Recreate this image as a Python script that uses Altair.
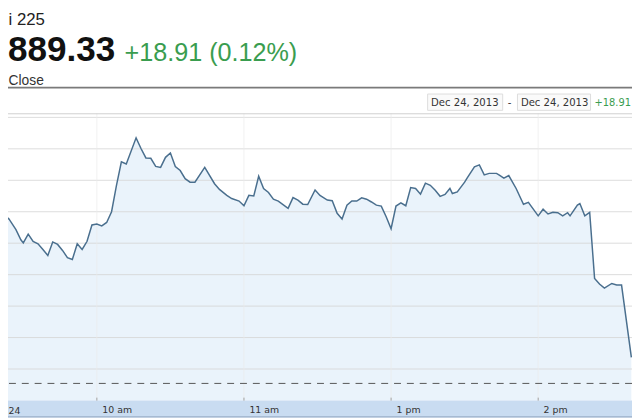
import altair as alt
import pandas as pd

# ---------------- data ----------------
# visible (cropped) header fragments as they appear in the picture
TITLE = "i 225"
PRICE = "889.33"
CHANGE = "+18.91 (0.12%)"
SUBTITLE = "Close"
RANGE_FROM = "Dec 24, 2013"
RANGE_TO = "Dec 24, 2013"
RANGE_CHANGE = "+18.91"
FIRST_TICK = "24"
TICK_TIMES = ["10:00", "11:00", "13:00", "14:00"]
TICK_LABELS = ["10 am", "11 am", "1 pm", "2 pm"]
PREV_CLOSE = 15870.42
GRID_VALUES = [15875, 15885, 15895, 15905, 15915, 15925, 15935, 15945, 15955]

TIMES = [
    "9:20", "9:24", "9:27", "9:29", "9:30", "9:32", "9:34", "9:36", "9:38", "9:40",
    "9:42", "9:44", "9:46", "9:48", "9:50", "9:52", "9:54", "9:56", "9:58",
    "10:00", "10:02", "10:04", "10:06", "10:08", "10:10", "10:12", "10:16", "10:18",
    "10:20", "10:22", "10:24", "10:26", "10:28", "10:30", "10:32", "10:34", "10:36",
    "10:38", "10:40", "10:44", "10:48", "10:50", "10:53", "10:55", "10:58",
    "11:00", "11:02", "11:04", "11:06", "11:08", "11:10", "11:12", "11:14", "11:18",
    "11:20", "11:22", "11:24", "11:26", "11:29",
    "12:31", "12:34", "12:36", "12:38", "12:40", "12:42", "12:44", "12:46", "12:48",
    "12:50", "12:52", "12:54", "12:56", "12:58",
    "13:00", "13:02", "13:04", "13:06", "13:08", "13:10", "13:12", "13:14", "13:16",
    "13:18", "13:20", "13:22", "13:24", "13:25", "13:27", "13:30", "13:31", "13:34",
    "13:36", "13:38", "13:40", "13:43", "13:44", "13:46", "13:48", "13:51", "13:54",
    "13:56",
    "14:00", "14:02", "14:04", "14:06", "14:08", "14:10", "14:12", "14:13", "14:16",
    "14:17", "14:19", "14:21", "14:23", "14:25", "14:27", "14:30", "14:32", "14:34",
    "14:38",
]
VALUES = [
    15921.4, 15922.9, 15919.3, 15916.1, 15915.1, 15917.9, 15915.6, 15914.8, 15913.0, 15911.1,
    15915.4, 15914.6, 15912.7, 15910.4, 15909.8, 15914.8, 15913.0, 15915.6, 15920.8,
    15921.1, 15920.5, 15921.6, 15925.0, 15933.4, 15940.9, 15940.2, 15948.5, 15945.1,
    15942.1, 15942.0, 15939.4, 15939.1, 15942.3, 15943.7, 15939.4, 15938.1, 15935.5,
    15934.4, 15934.4, 15939.1, 15933.9, 15932.1, 15930.2, 15929.2, 15928.4,
    15926.9, 15930.2, 15930.0, 15936.3, 15932.4, 15931.1, 15929.0, 15928.4, 15926.1,
    15929.5, 15928.7, 15927.4, 15927.3, 15931.9,
    15930.2, 15928.7, 15928.5, 15924.5, 15922.7, 15927.1, 15928.4, 15928.4, 15929.4,
    15929.0, 15928.1, 15927.1, 15926.8, 15923.4,
    15919.6, 15926.8, 15927.8, 15926.9, 15932.7, 15932.4, 15930.6, 15934.1, 15933.4,
    15931.8, 15929.9, 15930.5, 15932.4, 15930.8, 15931.3, 15934.4, 15935.7, 15939.3,
    15939.9, 15936.7, 15937.2, 15937.2, 15936.7, 15935.7, 15936.5, 15932.4, 15927.4,
    15928.0,
    15923.7, 15925.8, 15924.3, 15924.8, 15924.7, 15923.7, 15924.7, 15923.7, 15927.1,
    15927.6, 15923.7, 15924.8, 15903.8, 15902.0, 15900.7, 15902.2, 15901.7, 15901.7,
    15878.7,
]
assert len(TIMES) == len(VALUES)


def trading_minute(t):
    """Minutes of trading since 9:00 with the 11:30-12:30 lunch break removed."""
    h, mm = map(int, t.split(":"))
    c = (h - 9) * 60 + mm
    return c - 60 if c > 150 else c


df = pd.DataFrame({"m": [trading_minute(t) for t in TIMES], "v": VALUES})
tick_m = [trading_minute(t) for t in TICK_TIMES]

# ---------------- layout ----------------
W, H = 632, 291
XS = alt.Scale(domain=[23.76, 278.26], nice=False, zero=False)
YS = alt.Scale(domain=[15864.955, 15956.30], nice=False, zero=False)

label_expr = "''"
for m, lab in zip(reversed(tick_m), reversed(TICK_LABELS)):
    label_expr = f"datum.value == {m} ? '{lab}' : ({label_expr})"

XAXIS = alt.Axis(
    values=tick_m, labelExpr=label_expr, grid=False, domain=False, ticks=False,
    labelAlign="left", labelOffset=5, labelPadding=4.5, labelBaseline="top",
    labelFontSize=9.5, labelFont="DejaVu Sans", labelColor="#333333",
    title=None, zindex=1, labelFlush=False, labelOverlap=False,
)

LINE_COLOR = "#4a6f8e"
FILL_COLOR = "#eaf3fb"
GREEN = "#3a9d4f"

area = alt.Chart(df).mark_area(clip=True, color=FILL_COLOR, opacity=1).encode(
    x=alt.X("m:Q", scale=XS, axis=XAXIS),
    y=alt.Y("v:Q", scale=YS, axis=None),
)

hgrid = alt.Chart(pd.DataFrame({"v": GRID_VALUES})).mark_rule(
    color="#d6d6d6", strokeWidth=1, opacity=0.85
).encode(y=alt.Y("v:Q", scale=YS, axis=None))

vgrid = alt.Chart(pd.DataFrame({"m": tick_m})).mark_rule(
    color="#eaeaea", strokeWidth=1, opacity=0.7
).encode(x=alt.X("m:Q", scale=XS, axis=XAXIS))

prev = alt.Chart(pd.DataFrame({"v": [PREV_CLOSE]})).mark_rule(
    color="#555555", strokeWidth=1, strokeDash=[7, 6]
).encode(y=alt.Y("v:Q", scale=YS, axis=None))

top_border = alt.Chart(pd.DataFrame({"a": [0]})).mark_rule(
    color="#cfcfcf", strokeWidth=1
).encode(x=alt.value(0), x2=alt.value(W), y=alt.value(0.5))

line = alt.Chart(df).mark_line(clip=True, color=LINE_COLOR, strokeWidth=1.5).encode(
    x=alt.X("m:Q", scale=XS, axis=XAXIS),
    y=alt.Y("v:Q", scale=YS, axis=None),
)

band = alt.Chart(pd.DataFrame({"a": [0]})).mark_rect(fill="#c9dcf1").encode(
    x=alt.value(0), x2=alt.value(W), y=alt.value(H), y2=alt.value(H + 17)
)
band_edge = alt.Chart(pd.DataFrame({"a": [0]})).mark_rule(
    color="#8ea3bd", strokeWidth=1
).encode(x=alt.value(0), x2=alt.value(W), y=alt.value(H + 16.5))

ticks = alt.Chart(pd.DataFrame({"m": tick_m})).mark_rule(
    color="#a0a0a0", strokeWidth=1
).encode(x=alt.X("m:Q", scale=XS, axis=XAXIS), y=alt.value(H - 3), y2=alt.value(H))


def txt(text, x, y, size, color, align="left", weight="normal", font="Liberation Sans"):
    return alt.Chart(pd.DataFrame({"t": [text]})).mark_text(
        align=align, baseline="alphabetic", fontSize=size, font=font,
        color=color, fontWeight=weight,
    ).encode(x=alt.value(x), y=alt.value(y), text="t:N")


def box(x1, x2, y1, y2):
    return alt.Chart(pd.DataFrame({"a": [0]})).mark_rect(
        fill="#fafafa", stroke="#dcdcdc", strokeWidth=1
    ).encode(x=alt.value(x1), x2=alt.value(x2), y=alt.value(y1), y2=alt.value(y2))


separator = alt.Chart(pd.DataFrame({"a": [0]})).mark_rule(
    color="#7a7a7a", strokeWidth=2
).encode(x=alt.value(0), x2=alt.value(W), y=alt.value(-26))

layers = [
    area, hgrid, vgrid, prev, top_border, line, band, band_edge, ticks,
    txt(FIRST_TICK, 0.5, 304.5, 9.5, "#333333", font="DejaVu Sans"),
    txt(TITLE, 0.5, -89.5, 17, "#222222"),
    txt(PRICE, 0, -52.5, 35.5, "#111111", weight="bold"),
    txt(CHANGE, 118, -52.5, 25.5, GREEN),
    txt(SUBTITLE, 0.5, -29, 14, "#333333"),
    separator,
    box(425, 501, -19.5, -3),
    box(516, 590, -19.5, -3),
    txt(RANGE_FROM, 428.5, -7.5, 10.2, "#333333", font="DejaVu Sans"),
    txt("-", 508, -7.5, 10.2, "#333333", align="center", font="DejaVu Sans"),
    txt(RANGE_TO, 519.5, -7.5, 10.2, "#333333", font="DejaVu Sans"),
    txt(RANGE_CHANGE, 594, -7.5, 10, GREEN, font="DejaVu Sans"),
]

chart = alt.layer(*layers).properties(
    width=W, height=H,
    autosize=alt.AutoSizeParams(type="none"),
    padding={"left": 0, "right": 0, "top": 104, "bottom": 17},
    background="white",
).configure_view(stroke=None)

chart.save("out.html", embed_options={"renderer": "svg", "actions": False})
